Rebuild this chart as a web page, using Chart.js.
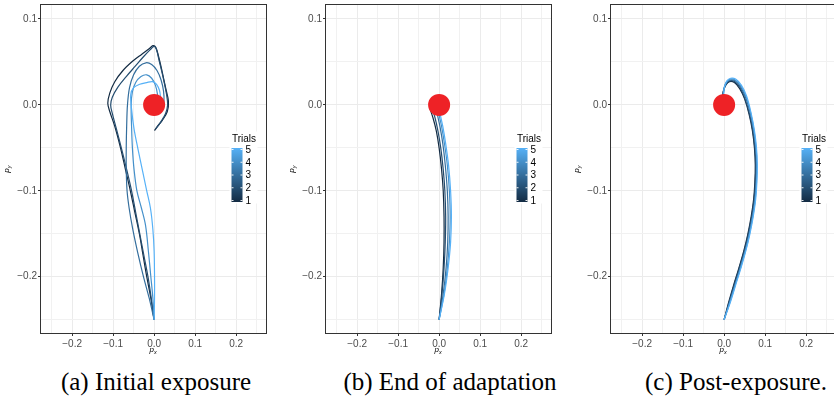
<!DOCTYPE html>
<html>
<head>
<meta charset="utf-8">
<script src="https://cdn.jsdelivr.net/npm/chart.js@4.4.1/dist/chart.umd.min.js"></script>
<style>
  html, body { margin: 0; padding: 0; background: #fff; width: 834px; height: 404px; overflow: hidden; position: relative; }
  .panel { position: absolute; top: 0; width: 270px; height: 360px; }
  .cap { position: absolute; top: 368px; font-family: "Liberation Serif", "Times New Roman", serif; font-size: 25px; color: #000; white-space: nowrap; transform: translateX(-50%); }
</style>
</head>
<body>
<div class="panel" style="left:0px"><canvas id="chartA"></canvas></div>
<div class="panel" style="left:285px"><canvas id="chartB"></canvas></div>
<div class="panel" style="left:570px"><canvas id="chartC"></canvas></div>
<div class="cap" style="left:156px">(a) Initial exposure</div>
<div class="cap" style="left:450px">(b) End of adaptation</div>
<div class="cap" style="left:736px">(c) Post-exposure.</div>

<script>
// axis ranges and ticks (data units)
const xMin = -0.276, xMax = 0.273;
const yMin = -0.2655, yMax = 0.1166;
const xGrid = [-0.25, -0.2, -0.15, -0.1, -0.05, 0, 0.05, 0.1, 0.15, 0.2, 0.25];
const yGrid = [-0.25, -0.2, -0.15, -0.1, -0.05, 0, 0.05, 0.1];
const xMajor = [-0.2, -0.1, 0, 0.1, 0.2];
const xMajorLabels = ['\u22120.2', '\u22120.1', '0.0', '0.1', '0.2'];
const yMajor = [-0.2, -0.1, 0, 0.1];
const yMajorLabels = ['\u22120.2', '\u22120.1', '0.0', '0.1'];

const trialLabels = [1, 2, 3, 4, 5];
const trialColors = ['#132B43', '#244D70', '#346E9D', '#4590CA', '#56B1F7'];
const targetPoint = [[0, 0]];

// (a) initial exposure
const initialTrial1 = [[0,-0.25],[-0.008,-0.225],[-0.018,-0.2],[-0.027,-0.175],[-0.036,-0.15],[-0.047,-0.125],[-0.058,-0.1],[-0.07,-0.075],[-0.082,-0.05],[-0.096,-0.025],[-0.108,-0.008],[-0.113,0.002],[-0.108,0.014],[-0.096,0.027],[-0.076,0.04],[-0.052,0.051],[-0.03,0.059],[-0.013,0.065],[-0.003,0.069],[0.004,0.067],[0.011,0.056],[0.019,0.04],[0.028,0.02],[0.035,0.004],[0.032,-0.008],[0.02,-0.018],[0.008,-0.025],[0.001,-0.03]];
const initialTrial2 = [[0,-0.25],[-0.007,-0.225],[-0.015,-0.2],[-0.025,-0.175],[-0.035,-0.15],[-0.045,-0.125],[-0.055,-0.1],[-0.067,-0.075],[-0.08,-0.05],[-0.092,-0.028],[-0.102,-0.01],[-0.106,0.0],[-0.102,0.009],[-0.088,0.021],[-0.068,0.033],[-0.046,0.045],[-0.026,0.056],[-0.01,0.064],[0.0,0.068],[0.006,0.064],[0.013,0.05],[0.022,0.032],[0.03,0.013],[0.033,0.0],[0.028,-0.01],[0.016,-0.02],[0.004,-0.028]];
const initialTrial3 = [[0,-0.25],[-0.012,-0.225],[-0.026,-0.2],[-0.04,-0.172],[-0.052,-0.145],[-0.061,-0.12],[-0.066,-0.1],[-0.068,-0.075],[-0.068,-0.05],[-0.067,-0.025],[-0.065,0.0],[-0.06,0.02],[-0.05,0.035],[-0.036,0.045],[-0.02,0.049],[-0.006,0.047],[0.007,0.04],[0.017,0.029],[0.023,0.016],[0.024,0.004],[0.02,-0.005]];
const initialTrial4 = [[0,-0.25],[-0.003,-0.225],[-0.008,-0.2],[-0.014,-0.17],[-0.021,-0.14],[-0.031,-0.12],[-0.042,-0.1],[-0.049,-0.075],[-0.053,-0.05],[-0.055,-0.025],[-0.056,0.0],[-0.053,0.015],[-0.045,0.026],[-0.032,0.033],[-0.018,0.035],[-0.006,0.031],[0.003,0.023],[0.008,0.013],[0.009,0.004]];
const initialTrial5 = [[0,-0.25],[0.001,-0.225],[0.001,-0.2],[0.0,-0.17],[-0.003,-0.145],[-0.009,-0.12],[-0.018,-0.1],[-0.029,-0.075],[-0.04,-0.05],[-0.049,-0.028],[-0.055,-0.005],[-0.057,0.012],[-0.05,0.02],[-0.035,0.024],[-0.018,0.026],[-0.004,0.027],[0.006,0.024],[0.013,0.017],[0.016,0.008]];

// (b) end of adaptation
const adaptTrial1 = [[0,-0.25],[0.006,-0.22],[0.01,-0.19],[0.012,-0.16],[0.012,-0.13],[0.01,-0.1],[0.006,-0.075],[0.0,-0.05],[-0.007,-0.03],[-0.015,-0.015],[-0.022,-0.005]];
const adaptTrial2 = [[0,-0.25],[0.007,-0.22],[0.012,-0.19],[0.015,-0.16],[0.016,-0.13],[0.014,-0.1],[0.01,-0.075],[0.004,-0.05],[-0.003,-0.03],[-0.01,-0.015],[-0.016,-0.006]];
const adaptTrial3 = [[0,-0.25],[0.01,-0.22],[0.017,-0.19],[0.021,-0.16],[0.022,-0.13],[0.02,-0.1],[0.015,-0.07],[0.009,-0.045],[0.002,-0.025],[-0.004,-0.012]];
const adaptTrial4 = [[0,-0.25],[0.012,-0.22],[0.02,-0.19],[0.025,-0.16],[0.027,-0.13],[0.025,-0.1],[0.02,-0.07],[0.013,-0.045],[0.006,-0.025],[0.0,-0.012]];
const adaptTrial5 = [[0,-0.25],[0.013,-0.22],[0.022,-0.19],[0.028,-0.16],[0.03,-0.13],[0.028,-0.1],[0.023,-0.07],[0.016,-0.045],[0.009,-0.025],[0.003,-0.012]];

// (c) post-exposure
const postTrial1 = [[0,-0.25],[0.011,-0.23],[0.023,-0.21],[0.036,-0.19],[0.048,-0.17],[0.058,-0.15],[0.066,-0.13],[0.072,-0.11],[0.075,-0.09],[0.076,-0.07],[0.074,-0.05],[0.069,-0.03],[0.061,-0.011],[0.05,0.007],[0.038,0.019],[0.025,0.026],[0.013,0.027],[0.004,0.023],[-0.002,0.016],[-0.004,0.009]];
const postTrial2 = [[0,-0.25],[0.012,-0.23],[0.024,-0.21],[0.037,-0.19],[0.049,-0.17],[0.059,-0.15],[0.067,-0.13],[0.073,-0.11],[0.076,-0.09],[0.077,-0.07],[0.075,-0.05],[0.07,-0.03],[0.062,-0.011],[0.051,0.007],[0.039,0.02],[0.026,0.027],[0.014,0.028],[0.005,0.024],[-0.001,0.017],[-0.003,0.01]];
const postTrial3 = [[0,-0.25],[0.013,-0.23],[0.026,-0.21],[0.039,-0.19],[0.051,-0.17],[0.061,-0.15],[0.069,-0.13],[0.075,-0.11],[0.078,-0.09],[0.079,-0.07],[0.077,-0.05],[0.072,-0.03],[0.064,-0.01],[0.053,0.008],[0.04,0.021],[0.027,0.028],[0.015,0.029],[0.006,0.026],[0.0,0.019],[-0.003,0.011]];
const postTrial4 = [[0,-0.25],[0.014,-0.23],[0.027,-0.21],[0.04,-0.19],[0.052,-0.17],[0.062,-0.15],[0.07,-0.13],[0.076,-0.11],[0.079,-0.09],[0.08,-0.07],[0.078,-0.05],[0.073,-0.03],[0.065,-0.01],[0.054,0.009],[0.041,0.022],[0.027,0.029],[0.015,0.03],[0.006,0.027],[0.0,0.02],[-0.002,0.012]];
const postTrial5 = [[0,-0.25],[0.015,-0.23],[0.028,-0.21],[0.041,-0.19],[0.053,-0.17],[0.063,-0.15],[0.071,-0.13],[0.077,-0.11],[0.08,-0.09],[0.081,-0.07],[0.079,-0.05],[0.074,-0.03],[0.066,-0.01],[0.055,0.01],[0.042,0.023],[0.028,0.03],[0.016,0.031],[0.007,0.028],[0.001,0.021],[-0.001,0.013]];

const SANS = '"Liberation Sans", Arial, Helvetica, sans-serif';
const isOn = (list, v) => list.findIndex((m) => Math.abs(m - v) < 1e-9);

// panel border, axis titles and the Trials colourbar, drawn on top
const decorPlugin = {
  id: 'decor',
  afterDraw(chart) {
    const { ctx, chartArea: a } = chart;
    ctx.save();
    ctx.strokeStyle = '#333333';
    ctx.lineWidth = 1;
    ctx.strokeRect(Math.round(a.left) - 0.5, Math.round(a.top) - 0.5, Math.round(a.right - a.left) + 1, Math.round(a.bottom - a.top) + 1);

    // axis titles: italic p with a small subscript
    ctx.fillStyle = '#000';
    ctx.textBaseline = 'alphabetic';
    const cx = (a.left + a.right) / 2;
    ctx.font = 'italic 8px ' + SANS;
    ctx.fillText('p', cx - 4, a.bottom + 19);
    ctx.font = 'italic 5.5px ' + SANS;
    ctx.fillText('x', cx + 0.5, a.bottom + 20.5);
    ctx.save();
    ctx.translate(a.left - 32, (a.top + a.bottom) / 2);
    ctx.rotate(-Math.PI / 2);
    ctx.font = 'italic 8px ' + SANS;
    ctx.fillText('p', -4, 0);
    ctx.font = 'italic 5.5px ' + SANS;
    ctx.fillText('y', 0.5, 1.5);
    ctx.restore();

    // colourbar legend
    const bx = a.left + 190.5, barTop = 148, barBottom = 202, bw = 11;
    ctx.fillStyle = '#fff';
    ctx.fillRect(bx - 2, 131.5, 28, 72);
    ctx.fillStyle = '#000';
    ctx.font = '10px ' + SANS;
    ctx.textAlign = 'left';
    ctx.textBaseline = 'middle';
    ctx.fillText('Trials', bx + 0.5, 139);
    const grad = ctx.createLinearGradient(0, barBottom, 0, barTop);
    trialColors.forEach((c, i) => grad.addColorStop(i / (trialColors.length - 1), c));
    ctx.fillStyle = grad;
    ctx.fillRect(bx, barTop, bw, barBottom - barTop);
    ctx.strokeStyle = 'rgba(255,255,255,0.9)';
    ctx.lineWidth = 1;
    trialLabels.forEach((t, i) => {
      const ty = 200.5 - i * 12.75;
      ctx.beginPath();
      ctx.moveTo(bx, ty); ctx.lineTo(bx + 2, ty);
      ctx.moveTo(bx + bw - 2, ty); ctx.lineTo(bx + bw, ty);
      ctx.stroke();
      ctx.fillStyle = '#000';
      ctx.fillText(String(t), bx + 14, ty + 0.5);
    });
    ctx.restore();
  }
};

function makePanel(id, trials) {
  const datasets = [{
    label: 'Target',
    data: targetPoint.map(([x, y]) => ({ x, y })),
    showLine: false,
    pointRadius: 11,
    pointBackgroundColor: '#EE2226',
    pointBorderWidth: 0,
    order: 0
  }];
  trials.forEach((trial, i) => {
    datasets.push({
      label: 'Trial ' + trialLabels[i],
      data: trial.map(([x, y]) => ({ x, y })),
      showLine: true,
      borderColor: trialColors[i],
      borderWidth: 1.2,
      pointRadius: 0,
      tension: 0.35,
      order: trials.length - i
    });
  });

  return new Chart(document.getElementById(id), {
    type: 'scatter',
    data: { datasets },
    options: {
      responsive: true,
      maintainAspectRatio: false,
      animation: false,
      layout: { autoPadding: false, padding: { top: 4.7, right: 4, bottom: 0, left: 0 } },
      plugins: { legend: { display: false }, tooltip: { enabled: false } },
      scales: {
        x: {
          type: 'linear', min: xMin, max: xMax,
          afterBuildTicks: (s) => { s.ticks = xGrid.map((v) => ({ value: v })); },
          afterFit: (s) => { s.height = 27; s.paddingLeft = 0; s.paddingRight = 0; },
          ticks: {
            autoSkip: false, maxRotation: 0, padding: 2, color: '#4D4D4D',
            font: { family: SANS, size: 10 },
            callback: (v) => { const k = isOn(xMajor, v); return k >= 0 ? xMajorLabels[k] : ''; }
          },
          grid: {
            color: (c) => isOn(xMajor, c.tick.value) >= 0 ? '#EBEBEB' : '#F1F1F1',
            tickLength: 3,
            tickColor: (c) => isOn(xMajor, c.tick.value) >= 0 ? '#333333' : 'rgba(0,0,0,0)'
          },
          border: { display: false }
        },
        y: {
          type: 'linear', min: yMin, max: yMax,
          afterBuildTicks: (s) => { s.ticks = yGrid.map((v) => ({ value: v })); },
          afterFit: (s) => { s.width = 41; s.paddingTop = 0; s.paddingBottom = 0; },
          ticks: {
            autoSkip: false, padding: 1, color: '#4D4D4D',
            font: { family: SANS, size: 10 },
            callback: (v) => { const k = isOn(yMajor, v); return k >= 0 ? yMajorLabels[k] : ''; }
          },
          grid: {
            color: (c) => isOn(yMajor, c.tick.value) >= 0 ? '#EBEBEB' : '#F1F1F1',
            tickLength: 3,
            tickColor: (c) => isOn(yMajor, c.tick.value) >= 0 ? '#333333' : 'rgba(0,0,0,0)'
          },
          border: { display: false }
        }
      }
    },
    plugins: [decorPlugin]
  });
}

makePanel('chartA', [initialTrial1, initialTrial2, initialTrial3, initialTrial4, initialTrial5]);
makePanel('chartB', [adaptTrial1, adaptTrial2, adaptTrial3, adaptTrial4, adaptTrial5]);
makePanel('chartC', [postTrial1, postTrial2, postTrial3, postTrial4, postTrial5]);
</script>
</body>
</html>
